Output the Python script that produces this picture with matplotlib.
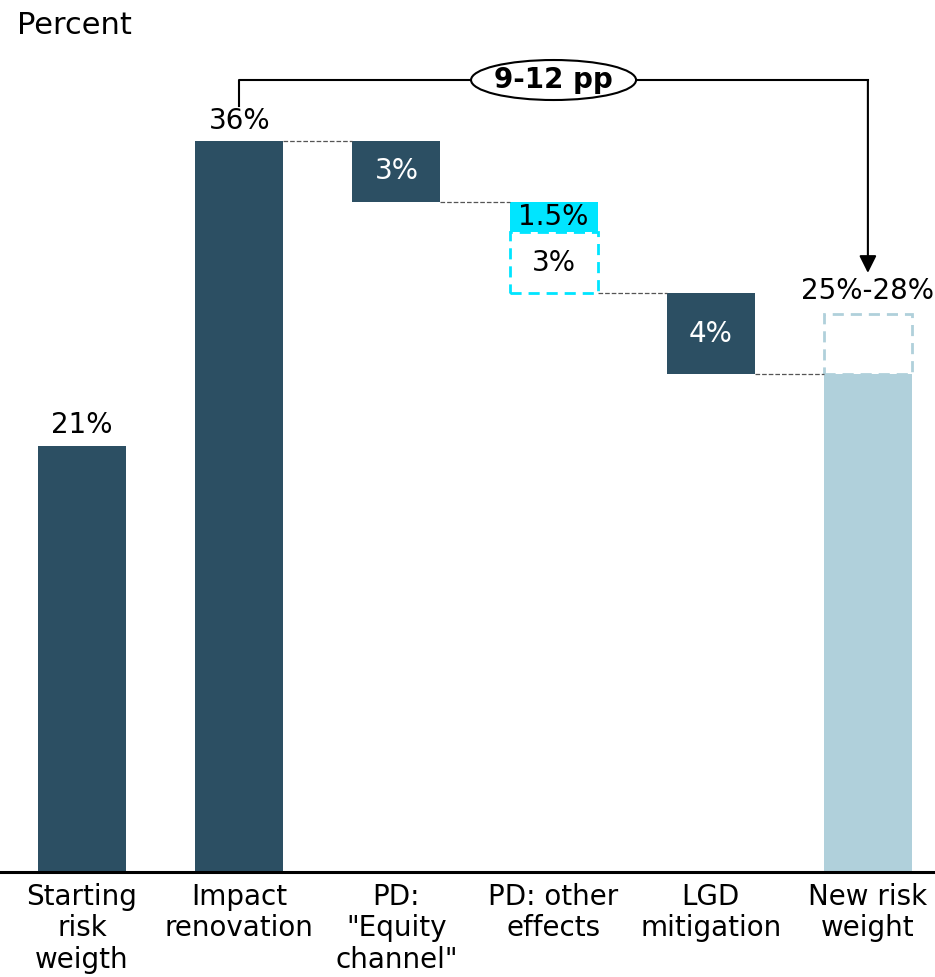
import matplotlib.pyplot as plt
from matplotlib.patches import Ellipse

# waterfall data (percent)
categories = ['Starting\nrisk\nweigth', 'Impact\nrenovation', 'PD:\n"Equity\nchannel"',
              'PD: other\neffects', 'LGD\nmitigation', 'New risk\nweight']
start_rw = 21
after_renovation = 36
equity_channel = 3
other_low = 1.5
other_extra = 3
lgd = 4
gap_label = '9-12 pp'

dark = '#2c4f63'
cyan = '#00e5ff'
light = '#b0d0db'

w = 0.56
x = list(range(len(categories)))

# derived levels
top_equity = after_renovation
bot_equity = top_equity - equity_channel
bot_other_low = bot_equity - other_low
bot_other = bot_other_low - other_extra
top_lgd = bot_other
bot_lgd = top_lgd - lgd
new_low = bot_lgd
new_high = new_low + other_extra

fig = plt.figure(figsize=(9.35, 9.77), dpi=100)
ax = fig.add_axes([0, (977 - 872) / 977, 1, 872 / 977])
ax.set_xlim(-0.522, 5.427)
ax.set_ylim(0, 42.94)

dash = (0, (4, 2.5))
ax.bar(x[0], start_rw, width=w, color=dark)
ax.bar(x[1], after_renovation, width=w, color=dark)
ax.bar(x[2], equity_channel, bottom=bot_equity, width=w, color=dark)
ax.bar(x[3], other_low, bottom=bot_other_low, width=w, color=cyan)
ax.bar(x[3], other_extra, bottom=bot_other, width=w, fill=False, edgecolor=cyan,
       linestyle=dash, linewidth=2)
ax.bar(x[4], lgd, bottom=bot_lgd, width=w, color=dark)
ax.bar(x[5], new_low, width=w, color=light)
ax.bar(x[5], other_extra, bottom=new_low, width=w, fill=False, edgecolor=light,
       linestyle=dash, linewidth=2)

# connectors
levels = [top_equity, bot_equity, bot_other, bot_lgd]
for i, lv in zip([1, 2, 3, 4], levels):
    ax.plot([i + w / 2, i + 1 - w / 2], [lv, lv], ls='--', color='#555555', lw=0.9)

fs = 20
ax.text(x[0], start_rw + 0.3, f'{start_rw}%', ha='center', va='bottom', fontsize=fs)
ax.text(x[1], after_renovation + 0.3, f'{after_renovation}%', ha='center', va='bottom', fontsize=fs)
ax.text(x[2], bot_equity + equity_channel / 2, f'{equity_channel}%', ha='center', va='center',
        fontsize=fs, color='white')
ax.text(x[3], bot_other_low + other_low / 2, f'{other_low}%', ha='center', va='center', fontsize=fs)
ax.text(x[3], bot_other + other_extra / 2, f'{other_extra}%', ha='center', va='center', fontsize=fs)
ax.text(x[4], bot_lgd + lgd / 2, f'{lgd}%', ha='center', va='center', fontsize=fs, color='white')
ax.text(x[5], new_high + 0.4, '25%-28%', ha='center', va='bottom', fontsize=fs)

# bracket with arrow
yb = after_renovation + 3
ax.plot([x[1], x[1], x[5]], [after_renovation + 1.7, yb, yb], color='black', lw=1.5)
ax.annotate('', xy=(x[5], new_high + 2.0), xytext=(x[5], yb),
            arrowprops=dict(arrowstyle='-|>', color='black', lw=1.5, mutation_scale=26,
                            shrinkA=0, shrinkB=0))
ax.add_patch(Ellipse((x[3], yb), 1.05, 1.97, facecolor='white', edgecolor='black', lw=1.5, zorder=3))
ax.text(x[3], yb, gap_label, ha='center', va='center', fontsize=fs, fontweight='bold', zorder=4)

ax.axhline(0, color='black', lw=2.2, clip_on=False, zorder=5)
ax.set_xticks(x)
ax.set_xticklabels(categories, fontsize=20, linespacing=1.15)
ax.tick_params(axis='x', length=0, pad=8)
ax.set_yticks([])
for s in ax.spines.values():
    s.set_visible(False)

fig.text(17 / 935, 1 - 25 / 977, 'Percent', fontsize=22, va='center', ha='left')

fig.savefig('out.png', dpi=100)
